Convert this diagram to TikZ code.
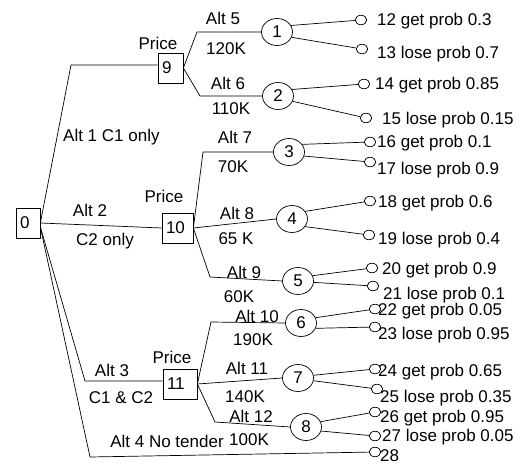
\documentclass[tikz,border=0pt]{standalone}
\usepackage{fontspec}
\setmainfont{Liberation Sans}
\usetikzlibrary{shapes.geometric}
\begin{document}
\begin{tikzpicture}[x=1pt,y=-1pt,
  every node/.style={font=\fontsize{17}{20}\selectfont},
  lbl/.style={inner sep=0pt, anchor=base},
  ltxt/.style={inner sep=0pt, anchor=base west},
  dbox/.style={draw, rectangle, inner xsep=4pt, inner ysep=0pt, align=left, minimum height=30pt, line width=0.7pt},
  chance/.style={draw, ellipse, minimum width=31pt, minimum height=27pt, inner sep=0pt, line width=0.7pt},
  leaf/.style={draw, ellipse, minimum width=11.5pt, minimum height=9.5pt, inner sep=0pt, line width=0.7pt},
  edge/.style={line width=0.7pt}
]
\useasboundingbox (0,0) rectangle (527,470);

% decision boxes
\node[dbox, text width=16pt] (n0) at (28,223) {0};
\node[dbox, text width=17pt] (n9) at (170.5,68) {9};
\node[dbox, text width=23pt] (n10) at (177.5,228) {10};
\node[dbox, text width=26pt] (n11) at (180,384) {11};

\node[lbl] (p9) at (158,50) {Price};
\node[lbl] (p10) at (164,203) {Price};
\node[lbl] (p11) at (172,363) {Price};

% chance nodes
\node[chance] (c1) at (277,32) {1};
\node[chance] (c2) at (278,96) {2};
\node[chance] (c3) at (289,152) {3};
\node[chance] (c4) at (292,219) {4};
\node[chance] (c5) at (298,281) {5};
\node[chance] (c6) at (301,323) {6};
\node[chance] (c7) at (298,378) {7};
\node[chance] (c8) at (306,427) {8};

% leaves
\node[leaf] (l12) at (361,20) {};
\node[leaf] (l13) at (362,49) {};
\node[leaf] (l14) at (364,84) {};
\node[leaf] (l15) at (366,118) {};
\node[leaf] (l16) at (370,142) {};
\node[leaf] (l17) at (370,162) {};
\node[leaf] (l18) at (370,201) {};
\node[leaf] (l19) at (369,235) {};
\node[leaf] (l20) at (372,268) {};
\node[leaf] (l21) at (373,286) {};
\node[leaf] (l22) at (375,309) {};
\node[leaf] (l23) at (375,327) {};
\node[leaf] (l24) at (375,369) {};
\node[leaf] (l25) at (377,389) {};
\node[leaf] (l26) at (375,412) {};
\node[leaf] (l27) at (375,436) {};
\node[leaf] (l28) at (375,452) {};

% leaf texts
\node[ltxt] (t12) at (377,26) {12 get prob 0.3};
\node[ltxt] (t13) at (377,59) {13 lose prob 0.7};
\node[ltxt] (t14) at (375,90) {14 get prob 0.85};
\node[ltxt] (t15) at (382,125) {15 lose prob 0.15};
\node[ltxt] (t16) at (377,148) {16 get prob 0.1};
\node[ltxt] (t17) at (377,175) {17 lose prob 0.9};
\node[ltxt] (t18) at (378,208) {18 get prob 0.6};
\node[ltxt] (t19) at (378,244) {19 lose prob 0.4};
\node[ltxt] (t20) at (382,274) {20 get prob 0.9};
\node[ltxt] (t21) at (383,299) {21 lose prob 0.1};
\node[ltxt] (t22) at (378,315) {22 get prob 0.05};
\node[ltxt] (t23) at (378,339) {23 lose prob 0.95};
\node[ltxt] (t24) at (378,376) {24 get prob 0.65};
\node[ltxt] (t25) at (380,402) {25 lose prob 0.35};
\node[ltxt] (t26) at (380,422) {26 get prob 0.95};
\node[ltxt] (t27) at (382,441) {27 lose prob 0.05};
\node[ltxt] (t28) at (380,461) {28};

% branch labels
\node[ltxt] (a1) at (63,142) {Alt 1 C1 only};
\node[lbl] (a2) at (90,217) {Alt 2};
\node[lbl] (a2b) at (105,246) {C2 only};
\node[lbl] (a3) at (112,376) {Alt 3};
\node[lbl] (a3b) at (121,403) {C1 \& C2};
\node[lbl] (a4) at (167,447) {Alt 4 No tender};

\node[lbl] (a5) at (223,25) {Alt 5};
\node[lbl] (a5b) at (226,55) {120K};
\node[lbl] (a6) at (228,90) {Alt 6};
\node[lbl] (a6b) at (231,115) {110K};
\node[lbl] (a7) at (235,144) {Alt 7};
\node[lbl] (a7b) at (233,173) {70K};
\node[lbl] (a8) at (237,220) {Alt 8};
\node[lbl] (a8b) at (236,245) {65 K};
\node[lbl] (a9) at (244,278) {Alt 9};
\node[lbl] (a9b) at (239,302) {60K};
\node[lbl] (a10) at (257,322) {Alt 10};
\node[lbl] (a10b) at (253,345) {190K};
\node[lbl] (a11) at (247,374) {Alt 11};
\node[lbl] (a11b) at (245,402) {140K};
\node[lbl] (a12) at (251,422) {Alt 12};
\node[lbl] (a12b) at (249,445) {100K};

% bend coordinates
\coordinate (k1) at (71,65);
\coordinate (k3) at (85,381);
\coordinate (k4) at (90,457);
\coordinate (k5) at (197,32);
\coordinate (k6) at (200,96);
\coordinate (k7) at (203,152);
\coordinate (k9) at (210,277);
\coordinate (k10) at (211,322);
\coordinate (k12) at (215,422);

% connectors from root
\draw[edge] (n0.east) -- (k1) -- (k1 -| n9.west);
\draw[edge] (n0.east) -- (n10.west);
\draw[edge] ([yshift=-4pt]n0.east) -- (k3) -- (k3 -| n11.west);
\draw[edge] ([yshift=-4pt]n0.east) -- (k4) -- (l28);

% price branches
\draw[edge] (n9.east) -- (k5) -- (c1.west);
\draw[edge] (n9.east) -- (k6) -- (c2.west);
\draw[edge] (n10.east) -- (k7) -- (c3.west);
\draw[edge] (n10.east) -- (c4.west);
\draw[edge] (n10.east) -- (k9) -- (c5.west);
\draw[edge] (n11.east) -- (k10) -- (c6.west);
\draw[edge] (n11.east) -- (c7.west);
\draw[edge] (n11.east) -- (k12) -- (c8.west);

% outcome branches
\draw[edge] (c1.25) -- (l12);
\draw[edge] (c1.-20) -- (l13);
\draw[edge] (c2.25) -- (l14);
\draw[edge] (c2.-20) -- (l15);
\draw[edge] (c3.30) -- (l16);
\draw[edge] (c3.-15) -- (l17);
\draw[edge] (c4.30) -- (l18);
\draw[edge] (c4.-30) -- (l19);
\draw[edge] (c5.20) -- (l20);
\draw[edge] (c5.-5) -- (l21);
\draw[edge] (c6.20) -- (l22);
\draw[edge] (c6.-20) -- (l23);
\draw[edge] (c7.10) -- (l24);
\draw[edge] (c7.-10) -- (l25);
\draw[edge] (c8.20) -- (l26);
\draw[edge] (c8.-15) -- (l27);
\end{tikzpicture}
\end{document}
